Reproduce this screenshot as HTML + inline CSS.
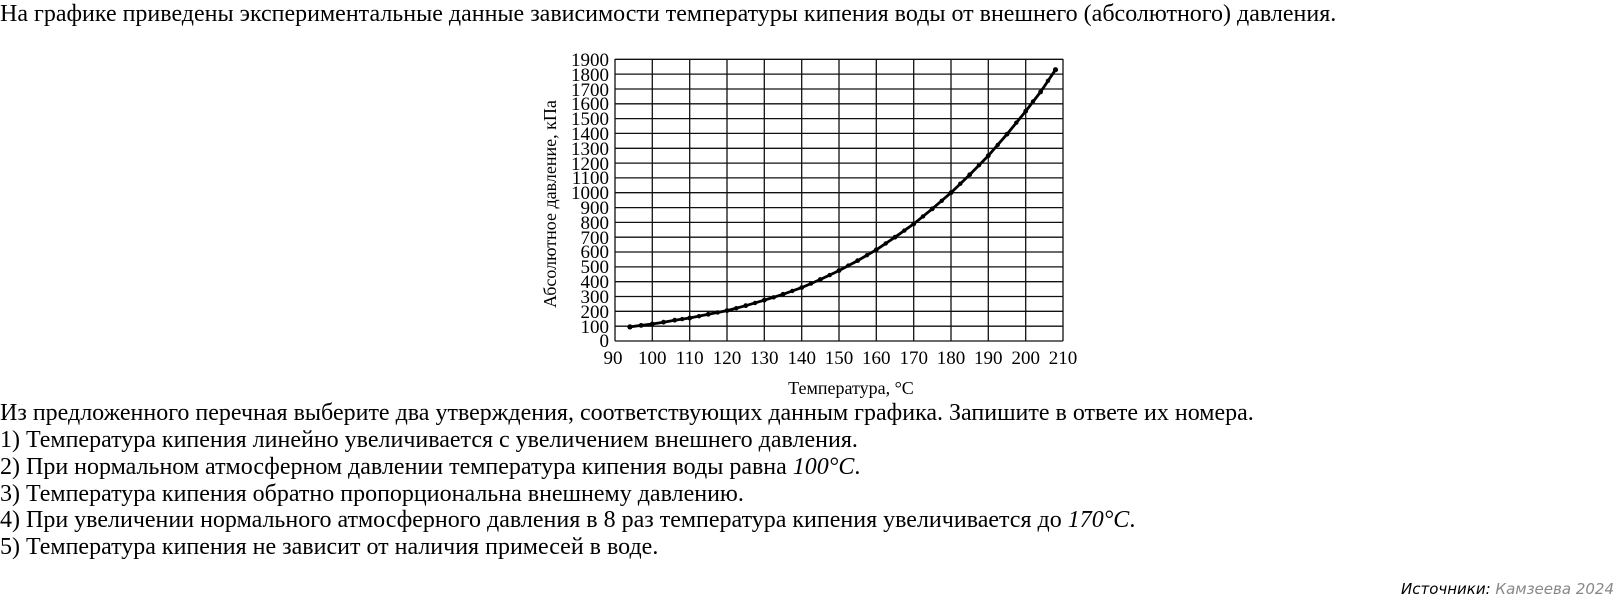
<!DOCTYPE html>
<html><head><meta charset="utf-8"><style>
body{margin:0;width:1616px;height:605px;background:#fff;position:relative;overflow:hidden;font-family:"Liberation Serif",serif;color:#000}
.t{position:absolute;left:0;font-size:24px;white-space:nowrap;line-height:27px}
.src{position:absolute;right:2px;top:580px;font-family:"DejaVu Sans",sans-serif;font-style:italic;font-size:15px}
</style></head><body>
<div class="t" style="top:1px">На графике приведены экспериментальные данные зависимости температуры кипения воды от внешнего (абсолютного) давления.</div>
<svg style="position:absolute;left:0;top:0" width="1616" height="400">
<g stroke="#111" stroke-width="1.3">
<line x1="615" y1="59" x2="615" y2="341"/><line x1="652.3" y1="59" x2="652.3" y2="341"/><line x1="689.7" y1="59" x2="689.7" y2="341"/><line x1="727" y1="59" x2="727" y2="341"/><line x1="764.3" y1="59" x2="764.3" y2="341"/><line x1="801.7" y1="59" x2="801.7" y2="341"/><line x1="839" y1="59" x2="839" y2="341"/><line x1="876.3" y1="59" x2="876.3" y2="341"/><line x1="913.7" y1="59" x2="913.7" y2="341"/><line x1="951" y1="59" x2="951" y2="341"/><line x1="988.3" y1="59" x2="988.3" y2="341"/><line x1="1025.7" y1="59" x2="1025.7" y2="341"/><line x1="1063" y1="59" x2="1063" y2="341"/>
<line x1="615" y1="341" x2="1063" y2="341"/><line x1="615" y1="326.2" x2="1063" y2="326.2"/><line x1="615" y1="311.3" x2="1063" y2="311.3"/><line x1="615" y1="296.5" x2="1063" y2="296.5"/><line x1="615" y1="281.7" x2="1063" y2="281.7"/><line x1="615" y1="266.9" x2="1063" y2="266.9"/><line x1="615" y1="252" x2="1063" y2="252"/><line x1="615" y1="237.2" x2="1063" y2="237.2"/><line x1="615" y1="222.4" x2="1063" y2="222.4"/><line x1="615" y1="207.6" x2="1063" y2="207.6"/><line x1="615" y1="192.7" x2="1063" y2="192.7"/><line x1="615" y1="177.9" x2="1063" y2="177.9"/><line x1="615" y1="163.1" x2="1063" y2="163.1"/><line x1="615" y1="148.3" x2="1063" y2="148.3"/><line x1="615" y1="133.4" x2="1063" y2="133.4"/><line x1="615" y1="118.6" x2="1063" y2="118.6"/><line x1="615" y1="103.8" x2="1063" y2="103.8"/><line x1="615" y1="89" x2="1063" y2="89"/><line x1="615" y1="74.1" x2="1063" y2="74.1"/><line x1="615" y1="59.3" x2="1063" y2="59.3"/>
</g>
<polyline fill="none" stroke="#000" stroke-width="2.8" points="629.9,326.9 641.1,325.4 652.3,324 663.5,322.2 674.7,320.2 689.7,318 708.3,314.3 727,310.6 745.7,305.7 764.3,300.2 783,294.3 801.7,287.6 820.3,279.5 839,270.6 857.7,260.6 876.3,249.8 895,237.2 913.7,223.9 932.3,208.8 951,192.7 969.7,174.7 988.3,155.7 1007,134.2 1025.7,111.2 1040.6,91.9 1055.5,69.7"/>
<g fill="#000">
<circle cx="629.9" cy="326.9" r="2.6"/><circle cx="641.1" cy="325.4" r="2.4"/><circle cx="652.3" cy="324" r="2.4"/><circle cx="663.5" cy="322.2" r="2.4"/><circle cx="674.7" cy="320.2" r="2.4"/><circle cx="689.7" cy="318" r="2.4"/><circle cx="708.3" cy="314.3" r="2.4"/><circle cx="727" cy="310.6" r="2.4"/><circle cx="745.7" cy="305.7" r="2.4"/><circle cx="764.3" cy="300.2" r="2.4"/><circle cx="783" cy="294.3" r="2.4"/><circle cx="801.7" cy="287.6" r="2.4"/><circle cx="820.3" cy="279.5" r="2.4"/><circle cx="839" cy="270.6" r="2.4"/><circle cx="857.7" cy="260.6" r="2.4"/><circle cx="876.3" cy="249.8" r="2.4"/><circle cx="895" cy="237.2" r="2.4"/><circle cx="913.7" cy="223.9" r="2.4"/><circle cx="932.3" cy="208.8" r="2.4"/><circle cx="951" cy="192.7" r="2.4"/><circle cx="969.7" cy="174.7" r="2.4"/><circle cx="988.3" cy="155.7" r="2.4"/><circle cx="1007" cy="134.2" r="2.4"/><circle cx="1025.7" cy="111.2" r="2.4"/><circle cx="1040.6" cy="91.9" r="2.4"/><circle cx="1055.5" cy="69.7" r="2.6"/>
<circle cx="682.2" cy="319.1" r="2.2"/><circle cx="699" cy="316.2" r="2.2"/><circle cx="717.7" cy="312.5" r="2.2"/><circle cx="736.3" cy="308.2" r="2.2"/><circle cx="755" cy="303" r="2.2"/><circle cx="773.7" cy="297.3" r="2.2"/><circle cx="792.3" cy="291" r="2.2"/><circle cx="811" cy="283.6" r="2.2"/><circle cx="829.7" cy="275.1" r="2.2"/><circle cx="848.3" cy="265.6" r="2.2"/><circle cx="867" cy="255.2" r="2.2"/><circle cx="885.7" cy="243.5" r="2.2"/><circle cx="904.3" cy="230.6" r="2.2"/><circle cx="923" cy="216.4" r="2.2"/><circle cx="941.7" cy="200.8" r="2.2"/><circle cx="960.3" cy="183.7" r="2.2"/><circle cx="979" cy="165.2" r="2.2"/><circle cx="997.7" cy="145" r="2.2"/><circle cx="1016.3" cy="122.7" r="2.2"/><circle cx="1033" cy="101.5" r="2.2"/><circle cx="1048" cy="80.8" r="2.2"/>
</g>
<g font-family="Liberation Serif, serif" font-size="19" text-anchor="end">
<text x="609" y="347">0</text><text x="609" y="333">100</text><text x="609" y="318">200</text><text x="609" y="303">300</text><text x="609" y="288">400</text><text x="609" y="273">500</text><text x="609" y="258">600</text><text x="609" y="244">700</text><text x="609" y="229">800</text><text x="609" y="214">900</text><text x="609" y="199">1000</text><text x="609" y="184">1100</text><text x="609" y="170">1200</text><text x="609" y="155">1300</text><text x="609" y="140">1400</text><text x="609" y="125">1500</text><text x="609" y="110">1600</text><text x="609" y="96">1700</text><text x="609" y="81">1800</text><text x="609" y="66">1900</text>
</g>
<g font-family="Liberation Serif, serif" font-size="19" text-anchor="middle">
<text x="613" y="364">90</text><text x="652.3" y="364">100</text><text x="689.7" y="364">110</text><text x="727" y="364">120</text><text x="764.3" y="364">130</text><text x="801.7" y="364">140</text><text x="839" y="364">150</text><text x="876.3" y="364">160</text><text x="913.7" y="364">170</text><text x="951" y="364">180</text><text x="988.3" y="364">190</text><text x="1025.7" y="364">200</text><text x="1063" y="364">210</text>
<text x="851" y="394" font-size="18">Температура,  °C</text>
<text transform="translate(556,204) rotate(-90)" font-size="18">Абсолютное давление,  кПа</text>
</g>
</svg>
<div class="t" style="top:400px">Из предложенного перечная выберите два утверждения, соответствующих данным графика. Запишите в ответе их номера.</div>
<div class="t" style="top:427px">1) Температура кипения линейно увеличивается с увеличением внешнего давления.</div>
<div class="t" style="top:454px">2) При нормальном атмосферном давлении температура кипения воды равна <i>100°C</i>.</div>
<div class="t" style="top:481px">3) Температура кипения обратно пропорциональна внешнему давлению.</div>
<div class="t" style="top:507px">4) При увеличении нормального атмосферного давления в 8 раз температура кипения увеличивается до <i>170°C</i>.</div>
<div class="t" style="top:534px">5) Температура кипения не зависит от наличия примесей в воде.</div>
<div class="src">Источники: <span style="color:#888">Камзеева 2024</span></div>
</body></html>
